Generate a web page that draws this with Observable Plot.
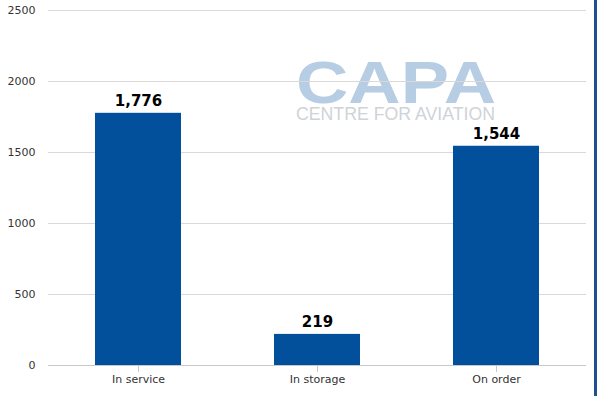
<!DOCTYPE html>
<html>
<head>
<meta charset="utf-8">
<script src="https://cdn.jsdelivr.net/npm/d3@7"></script>
<script src="https://cdn.jsdelivr.net/npm/@observablehq/plot@0.6"></script>
<style>
  html, body { margin: 0; padding: 0; background: #fff; }
  #wrap { position: relative; width: 594px; height: 396px; border-right: 3px solid #1f4f8f; }
</style>
</head>
<body>
<div id="wrap"></div>
<script>
const categories = ["In service", "In storage", "On order"];
const values = [1776, 219, 1544];
const yTicks = [0, 500, 1000, 1500, 2000, 2500];

const data = categories.map((c, i) => ({category: c, value: values[i]}));

const chart = Plot.plot({
  width: 594,
  height: 396,
  marginTop: 10,
  marginBottom: 31,
  marginLeft: 48,
  marginRight: 8,
  style: {fontFamily: "DejaVu Sans, Verdana, sans-serif", fontSize: "11px", color: "#333", background: "#fff"},
  x: {domain: categories, paddingInner: 0.52, paddingOuter: 0.26, label: null, tickSize: 7, tickPadding: 3},
  y: {domain: [0, 2500], ticks: yTicks, label: null, tickSize: 0, tickPadding: 13, tickFormat: d => String(d)},
  marks: [
    Plot.gridY(yTicks.filter(d => d > 0), {stroke: "#d9d9d9", strokeOpacity: 1}),
    Plot.barY(data, {x: "category", y: "value", fill: "#02509b"}),
    Plot.ruleY([0], {stroke: "#c8c8c8"}),
    Plot.text(data, {x: "category", y: "value", text: d => d3.format(",")(d.value), dy: -12, fontSize: 15, fontWeight: "bold", fill: "#000"})
  ]
});

d3.select(chart).selectAll("g[aria-label='x-axis tick'] path").attr("stroke", "#c8c8c8");

// CAPA watermark
const svg = d3.select(chart);
const wm = svg.insert("g", "g").attr("pointer-events", "none").attr("text-anchor", "start");
wm.append("text")
  .attr("x", 296).attr("y", 103)
  .attr("textLength", 200).attr("lengthAdjust", "spacingAndGlyphs")
  .attr("font-family", "Liberation Sans, Arial, sans-serif")
  .attr("font-weight", "bold").attr("font-size", 60)
  .attr("fill", "#b7cde3")
  .text("CAPA");
wm.append("text")
  .attr("x", 296).attr("y", 120)
  .attr("textLength", 199).attr("lengthAdjust", "spacingAndGlyphs")
  .attr("font-family", "Liberation Sans, Arial, sans-serif")
  .attr("font-size", 18)
  .attr("fill", "#cfd3d8")
  .text("CENTRE FOR AVIATION");

document.getElementById("wrap").appendChild(chart);
</script>
</body>
</html>
